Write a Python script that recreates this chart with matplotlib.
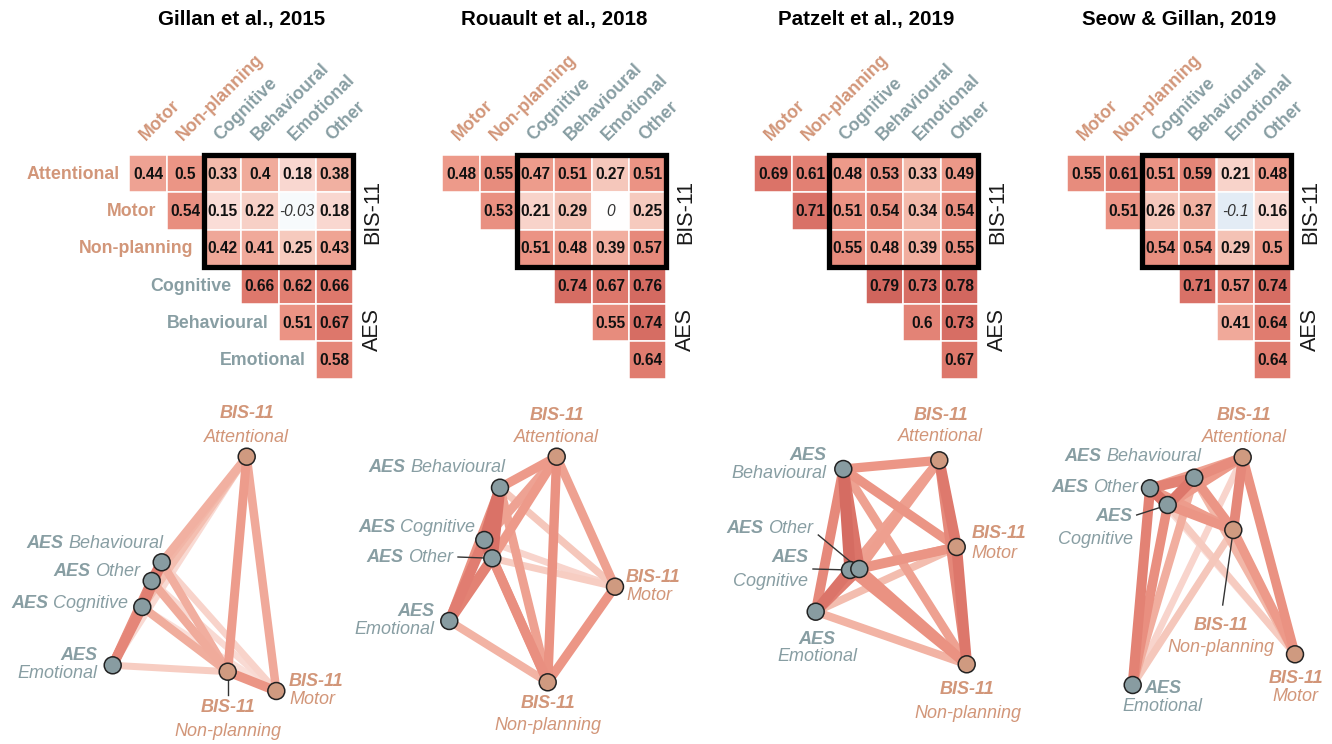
import numpy as np
import matplotlib.pyplot as plt
from matplotlib.colors import LinearSegmentedColormap, Normalize
from matplotlib.patches import Rectangle

plt.rcParams['font.family'] = ['Liberation Sans', 'DejaVu Sans']

studies = ['Gillan et al., 2015', 'Rouault et al., 2018',
           'Patzelt et al., 2019', 'Seow & Gillan, 2019']
scales = ['Attentional', 'Motor', 'Non-planning',
          'Cognitive', 'Behavioural', 'Emotional', 'Other']
prefixes = ['BIS-11'] * 3 + ['AES'] * 4

# upper triangle of the correlation matrix, one list per row
gillan_r = [[0.44, 0.5, 0.33, 0.4, 0.18, 0.38],
            [0.54, 0.15, 0.22, -0.03, 0.18],
            [0.42, 0.41, 0.25, 0.43],
            [0.66, 0.62, 0.66],
            [0.51, 0.67],
            [0.58]]
rouault_r = [[0.48, 0.55, 0.47, 0.51, 0.27, 0.51],
             [0.53, 0.21, 0.29, 0, 0.25],
             [0.51, 0.48, 0.39, 0.57],
             [0.74, 0.67, 0.76],
             [0.55, 0.74],
             [0.64]]
patzelt_r = [[0.69, 0.61, 0.48, 0.53, 0.33, 0.49],
             [0.71, 0.51, 0.54, 0.34, 0.54],
             [0.55, 0.48, 0.39, 0.55],
             [0.79, 0.73, 0.78],
             [0.6, 0.73],
             [0.67]]
seow_r = [[0.55, 0.61, 0.51, 0.59, 0.21, 0.48],
          [0.51, 0.26, 0.37, -0.1, 0.16],
          [0.54, 0.54, 0.29, 0.5],
          [0.71, 0.57, 0.74],
          [0.41, 0.64],
          [0.64]]
all_r = [gillan_r, rouault_r, patzelt_r, seow_r]

# network layouts (node order as in `scales`)
gillan_x = [246.7, 276.3, 227.7, 142.3, 161.7, 112.7, 151.7]
gillan_y = [66.7, 301.0, 281.7, 217.0, 172.3, 275.3, 191.0]
rouault_x = [243.7, 302.0, 234.7, 171.3, 187.0, 136.3, 179.3]
rouault_y = [66.7, 196.7, 292.3, 150.0, 97.7, 231.0, 168.3]
patzelt_x = [314.3, 331.7, 341.7, 225.0, 218.3, 190.7, 234.3]
patzelt_y = [70.3, 157.0, 274.3, 180.0, 79.0, 221.7, 179.0]
seow_x = [304.7, 357.0, 295.3, 229.7, 256.3, 194.7, 212.0]
seow_y = [67.3, 264.3, 140.0, 115.0, 87.7, 295.0, 98.3]
all_x = [gillan_x, rouault_x, patzelt_x, seow_x]
all_y = [gillan_y, rouault_y, patzelt_y, seow_y]

# node labels: (x, first line y, second line y or None for one line, align)
gillan_lab = [(246.7, 24, 47, 'center'), (289, 291, 309, 'left'),
              (228, 317, 341, 'center'), (128, 214, None, 'right'),
              (163, 153, None, 'right'), (97, 266, 284, 'right'),
              (140, 182, None, 'right')]
rouault_lab = [(243.7, 25.7, 47, 'center'), (313, 187.7, 205, 'left'),
               (235, 314, 335.7, 'center'), (162, 138, None, 'right'),
               (192, 78, None, 'right'), (121, 222, 240, 'right'),
               (140, 167, None, 'right')]
patzelt_lab = [(315.5, 25.7, 46.7, 'center'), (346.7, 144, 163, 'left'),
               (342.5, 300, 323.3, 'center'), (183, 168, 191, 'right'),
               (201.7, 65, 83.3, 'right'), (192, 249, 266.7, 'center'),
               (188, 138.3, None, 'right')]
seow_lab = [(306, 25, 47.3, 'center'), (357.8, 288.3, 306.7, 'center'),
            (283, 235, 257.3, 'center'), (194.7, 126.7, 149, 'right'),
            (263.7, 66.7, None, 'right'), (224.7, 298.3, 316.7, 'center'),
            (200.3, 97.3, None, 'right')]
all_lab = [gillan_lab, rouault_lab, patzelt_lab, seow_lab]

# leader lines: (node index, free end x, free end y)
all_leaders = [[(2, 227.7, 305)],
               [(6, 145, 167)],
               [(3, 188, 179), (6, 193.3, 145)],
               [(3, 198.7, 125), (2, 284.7, 215)]]

W, H = 1332, 744
CELL = 37.3
MAT_TOP = 155
mat_left = [129.3, 442.3, 754.3, 1067.3]
net_shift = [0, 313, 625, 938]

BIS_COL = '#d29679'
AES_COL = '#889ea3'
BIS_NODE = '#cf9a80'
AES_NODE = '#889ca1'
text_cols = [BIS_COL] * 3 + [AES_COL] * 4
node_cols = [BIS_NODE] * 3 + [AES_NODE] * 4

anchors = [(-1.0, (50, 100, 165)), (-0.5, (150, 185, 215)),
           (-0.1, (226, 236, 245)), (0.0, (255, 255, 255)),
           (0.15, (250, 222, 216)), (0.33, (243, 187, 172)),
           (0.5, (236, 150, 134)), (0.66, (222, 120, 108)),
           (0.79, (209, 102, 94)), (1.0, (178, 60, 58))]
cmap = LinearSegmentedColormap.from_list(
    'corr', [((v + 1) / 2, tuple(c / 255 for c in rgb)) for v, rgb in anchors])
norm = Normalize(-1, 1)

fig = plt.figure(figsize=(W / 100, H / 100), dpi=100)


def px_axes(left, top, width, height):
    ax = fig.add_axes([left / W, 1 - (top + height) / H, width / W, height / H])
    ax.axis('off')
    return ax


def draw_matrix(k, r):
    ax = px_axes(mat_left[k], MAT_TOP, 6 * CELL, 6 * CELL)
    ax.set_xlim(0, 6)
    ax.set_ylim(6, 0)
    for i, row in enumerate(r):
        for n, v in enumerate(row):
            j = i + n
            ax.add_patch(Rectangle((j, i), 1, 1, facecolor=cmap(norm(v)),
                                   edgecolor='white', lw=1.1))
            if v > 0.1:
                ax.text(j + 0.5, i + 0.52, f'{v:g}', ha='center', va='center',
                        fontsize=11.2, weight='bold', color='#111111')
            else:
                ax.text(j + 0.5, i + 0.52, f'{v:g}', ha='center', va='center',
                        fontsize=11.2, style='italic', color='#333333')
    ax.add_patch(Rectangle((2, 0), 4, 3, fill=False, lw=3.8,
                           edgecolor='black', clip_on=False, zorder=5))
    for j in range(6):
        ax.text(j + 0.5 - 0.06, -0.38, scales[j + 1], rotation=45,
                rotation_mode='anchor', ha='left', va='baseline',
                fontsize=12.8, weight='bold', color=text_cols[j + 1])
    if k == 0:
        for i in range(6):
            ax.text(i - 0.27, i + 0.52, scales[i], ha='right', va='center',
                    fontsize=12.8, weight='bold', color=text_cols[i])
    ax.text(6.52, 1.52, 'BIS-11', rotation=90, ha='center', va='center',
            fontsize=15.5, color='#1a1a1a')
    ax.text(6.52, 4.68, 'AES', rotation=90, ha='center', va='center',
            fontsize=15.5, color='#1a1a1a')
    fig.text((mat_left[k] + 3 * CELL) / W, 1 - 19 / H, studies[k],
             ha='center', va='center', fontsize=14.8, weight='bold')


def draw_network(k, r, xs, ys, labels, leaders):
    ax = px_axes(net_shift[k], 390, 394, 354)
    ax.set_xlim(0, 394)
    ax.set_ylim(354, 0)
    edges = []
    for a in range(6):
        for n, v in enumerate(r[a]):
            edges.append((v, a, a + 1 + n))
    for v, a, b in sorted(edges):
        if v <= 0.05:
            continue
        ax.plot([xs[a], xs[b]], [ys[a], ys[b]], color=cmap(norm(v * 0.94)),
                lw=3.6 + 5.8 * v, solid_capstyle='butt', zorder=1)
    for idx, lx, ly in leaders:
        ax.plot([lx, xs[idx]], [ly, ys[idx]], color='#333333', lw=1.0, zorder=2)
    ax.scatter(xs, ys, s=12.2 ** 2, c=node_cols, edgecolors='#222222',
               linewidths=1.1, zorder=4)
    for i, (lx, y1, y2, ha) in enumerate(labels):
        col = text_cols[i]
        if y2 is None:
            name = ax.text(lx, y1, scales[i], ha='right', va='center',
                           fontsize=13, style='italic', color=col)
            ax.annotate(prefixes[i], xy=(0, 0.5), xycoords=name,
                        xytext=(-3.5, 0), textcoords='offset points',
                        ha='right', va='center', fontsize=13,
                        style='italic', weight='bold', color=col)
        else:
            ax.text(lx, y1, prefixes[i], ha=ha, va='center', fontsize=13,
                    style='italic', weight='bold', color=col)
            ax.text(lx, y2, scales[i], ha=ha, va='center', fontsize=13,
                    style='italic', color=col)


for k in range(4):
    draw_matrix(k, all_r[k])
    draw_network(k, all_r[k], all_x[k], all_y[k], all_lab[k], all_leaders[k])

fig.savefig('out.png', dpi=100, facecolor='white')
